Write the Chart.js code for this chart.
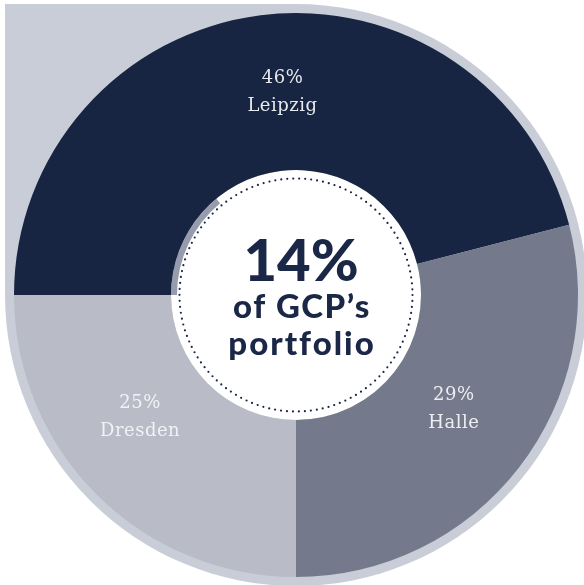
<!DOCTYPE html>
<html>
<head>
<meta charset="utf-8">
<script src="https://cdn.jsdelivr.net/npm/chart.js@4.4.1/dist/chart.umd.min.js"></script>
<style>
  html, body { margin: 0; padding: 0; background: #fff; }
  canvas { display: block; }
</style>
</head>
<body>
<canvas id="chart" width="584" height="585"></canvas>
<script>
const categories = ['Leipzig', 'Halle', 'Dresden'];
const shares = [46, 29, 25];
const portfolioShare = 14;
const centerLines = ['14%', 'of GCP\u2019s', 'portfolio'];

const sliceColors = ['#182542', '#747a8c', '#b9bcc7'];
const ringColor = '#c9cdd7';
const navy = '#1a2746';

// light grey ring + square top-left corner, white hole in the middle
const backdrop = {
  id: 'backdrop',
  beforeDatasetsDraw(chart) {
    const arc = chart.getDatasetMeta(0).data[0];
    const { x, y, outerRadius, innerRadius } = arc;
    const R = outerRadius + 9;
    const ctx = chart.ctx;
    ctx.save();
    ctx.fillStyle = ringColor;
    ctx.beginPath();
    ctx.arc(x, y, R, 0, Math.PI * 2);
    ctx.fill();
    ctx.fillRect(x - R, y - R, R, R);
    ctx.fillStyle = '#fff';
    ctx.beginPath();
    ctx.arc(x, y, innerRadius, 0, Math.PI * 2);
    ctx.fill();
    ctx.restore();
  }
};

const centerAndLabels = {
  id: 'centerAndLabels',
  afterDatasetsDraw(chart, args, opts) {
    const ctx = chart.ctx;
    const inner = chart.getDatasetMeta(1).data[0];
    const { x, y } = inner;

    // dotted circle
    ctx.save();
    ctx.strokeStyle = navy;
    ctx.lineWidth = 2.2;
    ctx.lineCap = 'round';
    ctx.setLineDash([0, 6]);
    ctx.beginPath();
    ctx.arc(x, y, inner.innerRadius - 2.5, 0, Math.PI * 2);
    ctx.stroke();
    ctx.restore();

    // center text
    ctx.save();
    ctx.fillStyle = navy;
    ctx.textAlign = 'center';
    ctx.textBaseline = 'alphabetic';
    ctx.font = '900 58px Lato';
    ctx.fillText(centerLines[0], x + 5, y - 14);
    ctx.font = '900 33px Lato';
    ctx.letterSpacing = '1.5px';
    ctx.fillText(centerLines[1], x + 6, y + 23);
    ctx.letterSpacing = '2px';
    ctx.fillText(centerLines[2], x + 6, y + 60);
    ctx.restore();

    // slice labels
    const meta = chart.getDatasetMeta(0);
    ctx.save();
    ctx.fillStyle = 'rgba(242,244,248,0.95)';
    ctx.textAlign = 'center';
    ctx.textBaseline = 'middle';
    ctx.font = '18px "DejaVu Serif"';
    ctx.letterSpacing = '0.5px';
    meta.data.forEach((arc, i) => {
      const mid = (arc.startAngle + arc.endAngle) / 2;
      const r = (arc.innerRadius + arc.outerRadius) / 2;
      const n = opts.nudge[i] || [0, 0];
      const lx = arc.x + Math.cos(mid) * r + n[0];
      const ly = arc.y + Math.sin(mid) * r + n[1];
      ctx.fillText(shares[i] + '%', lx, ly - 14);
      ctx.fillText(categories[i], lx, ly + 14);
    });
    ctx.restore();
  }
};

new Chart(document.getElementById('chart'), {
  type: 'doughnut',
  data: {
    labels: categories,
    datasets: [
      {
        data: shares,
        backgroundColor: sliceColors,
        borderWidth: 0,
        weight: 157
      },
      {
        data: [portfolioShare, 100 - portfolioShare],
        backgroundColor: ['#979cad', 'rgba(0,0,0,0)'],
        borderWidth: 0,
        weight: 6
      }
    ]
  },
  options: {
    responsive: false,
    animation: false,
    rotation: -90,
    cutout: '42.2%',
    layout: { padding: { left: 14, right: 6, top: 13, bottom: 8 } },
    plugins: {
      legend: { display: false },
      tooltip: { enabled: false },
      centerAndLabels: { nudge: [[12, -1], [-3, -10], [-12, -22]] }
    }
  },
  plugins: [backdrop, centerAndLabels]
});
</script>
</body>
</html>
